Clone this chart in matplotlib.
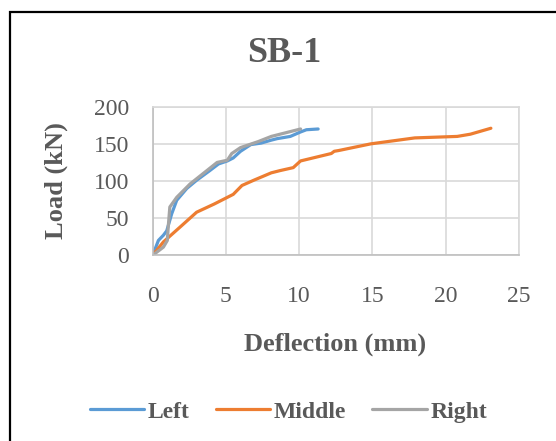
import matplotlib
matplotlib.use("Agg")
import matplotlib.pyplot as plt
from matplotlib.patches import Rectangle

left_x = [0, 0.39, 0.73, 0.96, 1.3, 1.64, 2.33, 3.0, 3.9, 4.5, 5.1, 5.5, 6.0, 6.7, 7.4, 8.1, 8.5, 9.4, 10.1, 10.5, 11.3]
left_y = [0, 20, 27, 33, 56, 74, 90, 101, 114, 123, 127, 131, 140, 149, 151, 155, 157, 160, 166, 169, 170]

mid_x = [0, 0.73, 1.87, 3.0, 4.2, 5.5, 6.1, 6.9, 8.1, 8.7, 9.6, 10.1, 12.2, 12.4, 12.7, 14.9, 17.9, 20.8, 21.7, 23.1]
mid_y = [0, 18, 38, 58, 69, 82, 94, 101, 111, 114, 118, 127, 137, 140, 141, 150, 158, 160, 163, 171]

right_x = [0, 0.73, 1.0, 1.06, 1.17, 1.64, 2.55, 3.7, 4.4, 5.1, 5.4, 6.0, 7.2, 8.1, 9.3, 10.1]
right_y = [0, 11, 20, 38, 65, 78, 96, 114, 125, 128, 137, 145, 153, 160, 166, 170]

series = [("Left", left_x, left_y, "#5b9bd5"),
          ("Middle", mid_x, mid_y, "#ed7d31"),
          ("Right", right_x, right_y, "#a5a5a5")]

plt.rcParams['font.family'] = ['Liberation Serif', 'DejaVu Serif']
txt = "#595959"
W, H = 556, 441

fig = plt.figure(figsize=(5.56, 4.41), dpi=100)
fig.patches.append(Rectangle((9.5/W, -0.2), 1.2, 1.2 - 12/H, transform=fig.transFigure,
                             fill=False, edgecolor="black", linewidth=1.6, clip_on=False))
ax = fig.add_axes([152.7/W, 1 - 255.3/H, (518.7 - 152.7)/W, (255.3 - 106.7)/H])

lines = []
for name, xs, ys, c in series:
    ln, = ax.plot(xs, ys, color=c, linewidth=2.3, label=name, solid_capstyle="round")
    lines.append(ln)

ax.set_xlim(0, 25)
ax.set_ylim(0, 200)
ax.set_xticks([0, 5, 10, 15, 20, 25])
ax.set_yticks([0, 50, 100, 150, 200])
ax.grid(True, color="#d9d9d9", linewidth=1.2)
ax.set_axisbelow(True)
for s in ax.spines.values():
    s.set_color("#d9d9d9")
    s.set_linewidth(1.2)
ax.spines["bottom"].set_color("#bfbfbf")
ax.spines["left"].set_color("#bfbfbf")
ax.tick_params(axis="x", length=0, labelsize=17, labelcolor=txt, pad=22)
ax.tick_params(axis="y", length=0, labelsize=17, labelcolor=txt, pad=17)

fig.text(284/W, 1 - 53/H, "SB-1", fontsize=26, fontweight="bold", color=txt,
         ha="center", va="center")
fig.text(335/W, 1 - 344/H, "Deflection (mm)", fontsize=19, fontweight="bold", color=txt,
         ha="center", va="center")
fig.text(56/W, 1 - 181/H, "Load (kN)", fontsize=19, fontweight="bold", color=txt,
         ha="center", va="center", rotation=90)

leg = fig.legend(handles=lines, loc="center", bbox_to_anchor=(288.5/W, 1 - 412/H),
                 ncol=3, frameon=False, handlelength=2.3, handletextpad=0.17,
                 columnspacing=1.1, prop={'weight': 'bold', 'size': 17})
for t in leg.get_texts():
    t.set_color(txt)

fig.savefig("out.png", dpi=100)
